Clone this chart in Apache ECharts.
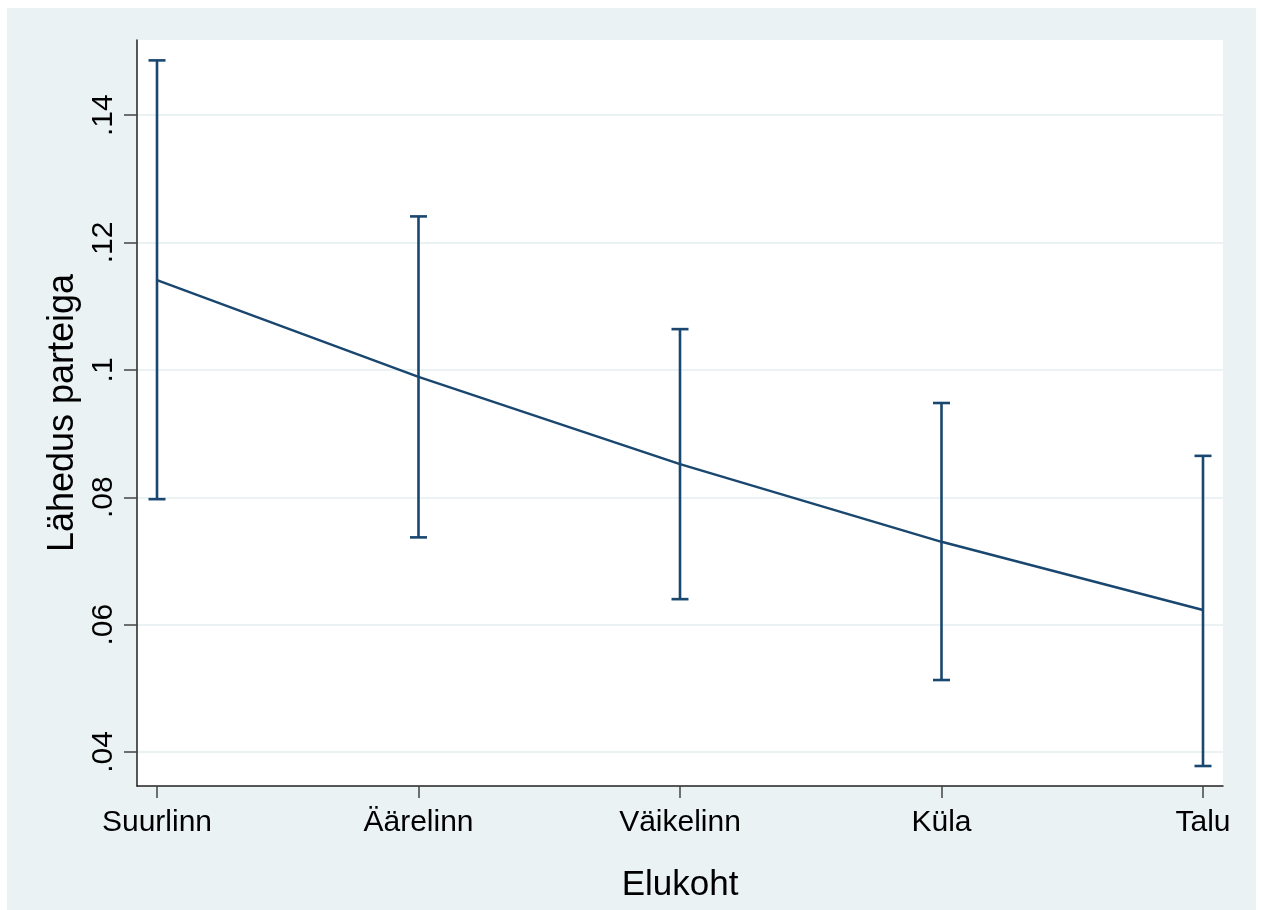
<!DOCTYPE html>
<html>
<head>
<meta charset="utf-8">
<script src="https://cdn.jsdelivr.net/npm/echarts@6/dist/echarts.min.js"></script>
<style>
html,body{margin:0;padding:0;background:#ffffff;}
#chart{position:absolute;left:7px;top:8px;width:1249px;height:902px;}
</style>
</head>
<body>
<div id="chart"></div>
<script>
const categories = ['Suurlinn', 'Äärelinn', 'Väikelinn', 'Küla', 'Talu'];
const means = [0.1141, 0.0989, 0.0852, 0.0730, 0.0623];
const upper = [0.1486, 0.1241, 0.1064, 0.0948, 0.0865];
const lower = [0.0797, 0.0737, 0.0640, 0.0513, 0.0378];
const yTicks = [0.04, 0.06, 0.08, 0.10, 0.12, 0.14];
const yTickLabels = ['.04', '.06', '.08', '.1', '.12', '.14'];
const xPositions = [1, 2, 3, 4, 5];

const navy = '#1a476f';
const font = '"Liberation Sans", Arial, sans-serif';

const chart = echarts.init(document.getElementById('chart'));

const lineData = xPositions.map((x, i) => [x, means[i]]);
const barData = xPositions.map((x, i) => [x, lower[i], upper[i]]);

chart.setOption({
  backgroundColor: '#eaf2f3',
  animation: false,
  grid: { left: 130, top: 32, right: 33, bottom: 124, show: true, backgroundColor: '#ffffff', borderWidth: 0 },
  xAxis: {
    type: 'value',
    min: 0.9235,
    max: 5.0765,
    name: 'Elukoht',
    nameLocation: 'middle',
    nameGap: 82,
    nameTextStyle: { fontFamily: font, fontSize: 35, color: '#000' },
    axisLine: { show: true, lineStyle: { color: '#222', width: 1.5 } },
    axisTick: { show: true, length: 12, customValues: xPositions, lineStyle: { color: '#444', width: 1.5 } },
    axisLabel: {
      customValues: xPositions,
      margin: 22,
      fontFamily: font, fontSize: 30, color: '#000',
      formatter: v => categories[Math.round(v) - 1] || ''
    },
    splitLine: { show: false }
  },
  yAxis: {
    type: 'value',
    min: 0.03466,
    max: 0.1518,
    name: 'Lähedus parteiga',
    nameLocation: 'middle',
    nameGap: 55,
    nameRotate: 90,
    nameTextStyle: { fontFamily: font, fontSize: 36, color: '#000' },
    axisLine: { show: true, lineStyle: { color: '#222', width: 1.5 } },
    axisTick: { show: true, length: 13, customValues: yTicks, lineStyle: { color: '#444', width: 1.5 } },
    axisLabel: {
      customValues: yTicks,
      rotate: 90,
      margin: 18,
      fontFamily: font, fontSize: 30, color: '#000',
      formatter: v => {
        const i = yTicks.findIndex(t => Math.abs(t - v) < 1e-6);
        return i >= 0 ? yTickLabels[i] : '';
      }
    },
    splitLine: { show: true, lineStyle: { color: '#eaf2f3', width: 2 } }
  },
  series: [
    {
      type: 'line',
      data: lineData,
      showSymbol: false,
      lineStyle: { color: navy, width: 2.5 },
      z: 3
    },
    {
      type: 'custom',
      data: barData,
      z: 4,
      renderItem: function (params, api) {
        const x = api.value(0);
        const lo = api.coord([x, api.value(1)]);
        const hi = api.coord([x, api.value(2)]);
        const hw = 8.5;
        const style = { stroke: navy, lineWidth: 2.6 };
        return {
          type: 'group',
          children: [
            { type: 'line', shape: { x1: lo[0], y1: lo[1], x2: hi[0], y2: hi[1] }, style: style },
            { type: 'line', shape: { x1: lo[0] - hw, y1: lo[1], x2: lo[0] + hw, y2: lo[1] }, style: style },
            { type: 'line', shape: { x1: hi[0] - hw, y1: hi[1], x2: hi[0] + hw, y2: hi[1] }, style: style }
          ]
        };
      }
    }
  ]
});
</script>
</body>
</html>
